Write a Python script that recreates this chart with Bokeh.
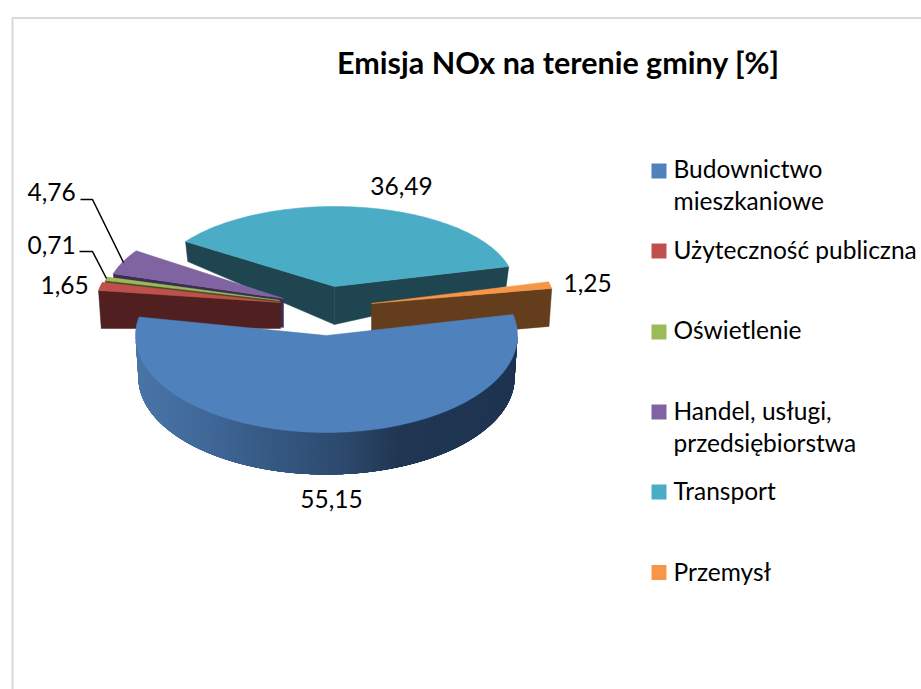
import numpy as np
from bokeh.plotting import figure
from bokeh.embed import file_html
from bokeh.resources import INLINE
from bokeh.core.properties import value

title_text = "Emisja NOx na terenie gminy [%]"
categories = ["Budownictwo mieszkaniowe", "Użyteczność publiczna", "Oświetlenie",
              "Handel, usługi, przedsiębiorstwa", "Transport", "Przemysł"]
legend_lines = [["Budownictwo", "mieszkaniowe"], ["Użyteczność publiczna"], ["Oświetlenie"],
                ["Handel, usługi,", "przedsiębiorstwa"], ["Transport"], ["Przemysł"]]
values = [55.15, 1.65, 0.71, 4.76, 36.49, 1.25]
value_labels = ["55,15", "1,65", "0,71", "4,76", "36,49", "1,25"]
colors = ["#4F81BD", "#C0504D", "#9BBB59", "#8064A2", "#4BACC6", "#F79646"]
side_colors = ["#1F3552", "#4F201F", "#3F4F1F", "#3D2D55", "#1F4650", "#633D1C"]

# layout: page pixel space of the picture (slice explosion/perspective)
START_ANGLE = 10.0
FRONT_WARP = 1.025
slice_geom = {  # cx, cy, rx, ry, depth at apex, depth at rim
    0: (326, 335, 191, 97, 42, 42),
    1: (280, 302, 184, 81, 26, 38),
    2: (279, 300, 180, 80, 26, 30),
    3: (283, 298, 178, 85, 29, 30),
    4: (334, 286, 180, 80, 38, 20),
    5: (371, 303, 183, 87, 38, 38),
}
LABEL_SHIFT = -9   # the SVG text sits lower than its nominal baseline
TITLE_SHIFT = -13
label_pos = [(331, 507, "center"), (40, 293, "left"), (27, 253, "left"),
             (27, 200, "left"), (401, 194, "center"), (563, 291, "left")]
leaders = {3: [(80, 199), (92, 199), (123, 262)], 2: [(79, 251), (92, 251), (106, 278)]}
legend_marker_y = [170.5, 250.5, 331.5, 411.5, 491.5, 572]
legend_first_baseline = [177, 258, 338, 419, 499, 580]
LEGEND_LINE_STEP = 32
FONT = "Lato"
LABEL_SIZE = "24.5px"

p = figure(width=921, height=689, x_range=(0, 921), y_range=(689, 0),
           output_backend="svg", toolbar_location=None, min_border=0,
           x_axis_type=None, y_axis_type=None, outline_line_color=None,
           background_fill_color="white", border_fill_color="white",
           margin=(0, -16, -16, 0))
p.grid.visible = False

# chart frame
p.line([12, 12, 921], [689, 17.5, 17.5], line_color="#D9D9D9", line_width=2)

# slice angles, clockwise from START_ANGLE
spans = [v / sum(values) * 360 for v in values]
a0 = [START_ANGLE - sum(spans[:i]) for i in range(len(values))]
a1 = [a - s for a, s in zip(a0, spans)]
mid0 = (a0[0] + a1[0]) / 2
a0[0], a1[0] = mid0 + spans[0] / 2 * FRONT_WARP, mid0 - spans[0] / 2 * FRONT_WARP


def rim(i, t_deg, below=False):
    cx, cy, rx, ry, da, dr = slice_geom[i]
    t = np.radians(t_deg)
    if below:
        return cx + 0.985 * rx * np.cos(t), cy + dr - ry * np.sin(t)
    return cx + rx * np.cos(t), cy - ry * np.sin(t)


def top_face(i):
    cx, cy, *_ = slice_geom[i]
    ts = np.linspace(a0[i], a1[i], 100)
    xs, ys = rim(i, ts)
    return [cx, *xs], [cy, *ys]


def cut_face(i, t_deg):
    cx, cy, rx, ry, da, dr = slice_geom[i]
    x0, y0 = rim(i, t_deg)
    x1, y1 = rim(i, t_deg, True)
    return [cx, x0, x1, cx], [cy, y0, y1, cy + da]


def draw(i, faces):
    for xs, ys in faces:
        p.patch(xs, ys, fill_color=side_colors[i], line_color=side_colors[i], line_width=0.5)
    xs, ys = top_face(i)
    p.patch(xs, ys, fill_color=colors[i], line_color=colors[i], line_width=0.5)


# back to front
draw(4, [cut_face(4, a0[4]), cut_face(4, a1[4])])
draw(3, [cut_face(3, a0[3])])
draw(2, [cut_face(2, a0[2])])
draw(1, [cut_face(1, a0[1])])
draw(5, [cut_face(5, a1[5])])

# main slice: shaded outer wall, overlapping strips painted left to right
stops_x = [134, 200, 260, 340, 400, 520]
stops_c = np.array([[0x4A, 0x76, 0xA8], [0x41, 0x69, 0x9A], [0x37, 0x5B, 0x86],
                    [0x2D, 0x4A, 0x6E], [0x20, 0x36, 0x52], [0x1E, 0x35, 0x52]], float)
ts = np.linspace(-180, 0, 361)
for t in ts[:-1]:
    part = np.linspace(t, min(t + 4, 0), 6)
    xa, ya = rim(0, part)
    xb, yb = rim(0, part[::-1], True)
    mid = rim(0, t)[0]
    c = [int(round(np.interp(mid, stops_x, stops_c[:, k]))) for k in range(3)]
    col = "#%02X%02X%02X" % tuple(c)
    p.patch([*xa, *xb], [*ya, *yb], fill_color=col, line_color=None)
xs, ys = top_face(0)
p.patch(xs, ys, fill_color=colors[0], line_color=colors[0], line_width=0.5)

# leader lines
for pts in leaders.values():
    p.line([q[0] for q in pts], [q[1] for q in pts], line_color="#000000", line_width=1.5)

# data labels
for lab, (x, y, al) in zip(value_labels, label_pos):
    p.text([x], [y + LABEL_SHIFT], text=[lab], text_font=value(FONT), text_font_size=LABEL_SIZE,
           text_align=al, text_baseline="alphabetic", text_color="#000000")

# title
p.text([558], [74 + TITLE_SHIFT], text=[title_text], text_font=value(FONT), text_font_size="30.5px",
       text_font_style="bold", text_align="center", text_baseline="alphabetic", text_color="#000000")

# legend
p.rect([658.5] * 6, legend_marker_y, width=15, height=15, width_units="screen", height_units="screen",
       fill_color=colors, line_color=None)
for lines, b in zip(legend_lines, legend_first_baseline):
    for k, line in enumerate(lines):
        p.text([673], [b + k * LEGEND_LINE_STEP + LABEL_SHIFT], text=[line], text_font=value(FONT),
               text_font_size=LABEL_SIZE, text_align="left", text_baseline="alphabetic",
               text_color="#000000")

open("out.html", "w").write(file_html(p, INLINE))
